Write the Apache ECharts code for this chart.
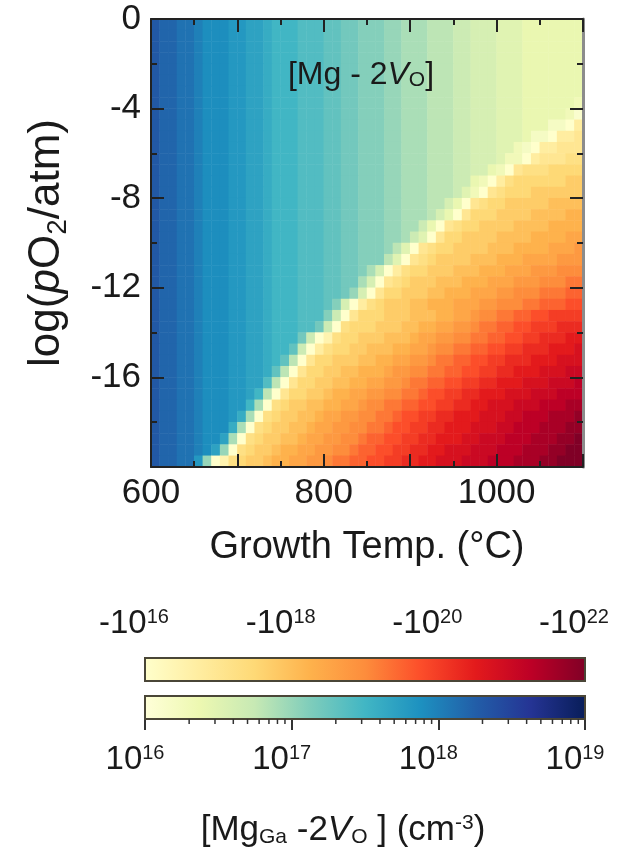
<!DOCTYPE html>
<html>
<head>
<meta charset="utf-8">
<script src="https://cdn.jsdelivr.net/npm/echarts@6/dist/echarts.min.js"></script>
<style>
html,body{margin:0;padding:0;background:#ffffff;}
#c{width:636px;height:849px;}
</style>
</head>
<body>
<div id="c"></div>
<script>
// ================= DATA =================
// Growth temperature cell centres (deg C), left -> right
const tempC = [605,615,625,635,645,655,665,675,685,695,705,715,725,735,745,755,765,775,785,795,
               805,815,825,835,845,855,865,875,885,895,905,915,925,935,945,955,965,975,985,995,
               1005,1015,1025,1035,1045,1055,1065,1075,1085,1095];
// log(pO2/atm) cell centres, top -> bottom (same order as mapRows)
const logPO2 = [-0.25,-0.75,-1.25,-1.75,-2.25,-2.75,-3.25,-3.75,-4.25,-4.75,
                -5.25,-5.75,-6.25,-6.75,-7.25,-7.75,-8.25,-8.75,-9.25,-9.75,
                -10.25,-10.75,-11.25,-11.75,-12.25,-12.75,-13.25,-13.75,-14.25,-14.75,
                -15.25,-15.75,-16.25,-16.75,-17.25,-17.75,-18.25,-18.75,-19.25,-19.75];
// [Mg - 2Vo] map, one character per temperature column, one string per pO2 row.
//  lowercase a..z : positive value,  log10([Mg-2Vo]) = 16 + 0.1  * (letter index)
//  uppercase A..Y : negative value,  log10(|[Mg-2Vo]|) = 16 + 0.25 * (letter index)
const mapRows = [
  "xwwvvutttssrrqpppooonnmmlllkkjjjiiihhgggfffeeeeeee",
  "xwwvvutttssrrqpppooonnmmlllkkjjjiiihhgggfffeeeeeee",
  "xwwvvutttssrrqpppooonnmmlllkkjjjiiihhgggfffeeeeeee",
  "xwwvvutttssrrqpppooonnmmlllkkjjjiiihhgggfffeeeeeee",
  "xwwvvutttssrrqpppooonnmmlllkkjjjiiihhgggfffeeeeeee",
  "xwwvvutttssrrqpppooonnmmlllkkjjjiiihhgggfffeeeeeee",
  "xwwvvutttssrrqpppooonnmmlllkkjjjiiihhgggfffeeeeeee",
  "xwwvvutttssrrqpppooonnmmlllkkjjjiiihhgggfffeeeeeed",
  "xwwvvutttssrrqpppooonnmmlllkkjjjiiihhgggfffeeeeedb",
  "xwwvvutttssrrqpppooonnmmlllkkjjjiiihhgggfffeeeccAD",
  "xwwvvutttssrrqpppooonnmmlllkkjjjiiihhgggfffeccADDE",
  "xwwvvutttssrrqpppooonnmmlllkkjjjiiihhgggffdcADDEEE",
  "xwwvvutttssrrqpppooonnmmlllkkjjjiiihhgggfddADEEEFF",
  "xwwvvutttssrrqpppooonnmmlllkkjjjiiihhggedAEFFFGGGG",
  "xwwvvutttssrrqpppooonnmmlllkkjjjiiihhedADFGGGGGGHH",
  "xwwvvutttssrrqpppooonnmmlllkkjjjiiihfdAEFGGGHHHHHH",
  "xwwvvutttssrrqpppooonnmmlllkkjjjiigeAEFGGHHHHHIIII",
  "xwwvvutttssrrqpppooonnmmlllkkjjjigeAEGGGHHHHIIIIJJ",
  "xwwvvutttssrrqpppooonnmmlllkkjjheAEFGGHHHHIIIIJJJJ",
  "xwwvvutttssrrqpppooonnmmlllkkjhfAEGGHHHHIIIIJJJJKK",
  "xwwvvutttssrrqpppooonnmmlllkifAEFGGHHHHIIIJJJJKKKL",
  "xwwvvutttssrrqpppooonnmmlllifAEFGHHHHIIIJJJKKKKLLL",
  "xwwvvutttssrrqpppooonnmmljgADFGGHHHIIIJJJKKKLLLMMM",
  "xwwvvutttssrrqpppooonnmmjgAEFGHHHIIIJJJKKKLLLMMMNN",
  "xwwvvutttssrrqpppooonnmkgAEGGHHHIIJJJKKKLLMMMNNNOO",
  "xwwvvutttssrrqpppooonlgADFGHHHIIJJJKKKLLMMMNNOOOPP",
  "xwwvvutttssrrqpppooolhAEGGGHHHIIIJJKKLMMNNOOPPQQQQ",
  "xwwvvutttssrrqpppoomhAFGGGHHHIIJJKKLLMNNOOPPQQQRRR",
  "xwwvvutttssrrqpppmhACFGGHHHIIIJKKLLMMNNOOPPQQRRRSS",
  "xwwvvutttssrrqppnhADFGGHHIIIJJKKLMMNNOOPPQQRRRSSST",
  "xwwvvutttssrrqpniAEGGHHHIIJJKKLLMNNOOPPQQRRRSSSTTT",
  "xwwvvutttssrrqniAEGGHHIIJJJKLLMMNNOOPPQQRRSSSTTTUU",
  "xwwvvutttssrroiAEGGHHIIJJKKLLMNNOOPPQQRRSSSTTTUUUV",
  "xwwvvutttssrpiAEGGHHIJJKKLLMMNNOPPQQRRSSSTTTUUUVVV",
  "xwwvvutttsspjAFGHHIIJJKKLMMNNOOPPQQRRSSTTTUUUVVVWW",
  "xwwvvutttsqjAFGHHIIJKKLLMMNNOPPQQRRSSSTTTUUVVVWWWX",
  "xwwvvutttqjAFGHHIIJKKLLMMNNOPPQQRRSSSTTTUUVVVWWWXX",
  "xwwvvuttrjAFGHHIIJKKLLMMNOOPPQQRRSSSTTUUUVVVWWWXXY",
  "xwwvvutrkAFGHHIJJKKLLMMNOOPPQQRRSSTTTUUUVVVWWWXXYY",
  "xwwvvskACFGHHIJJKKLLMNNOOPPQQRRSSTTTUUUVVVWWWXXYYY"
];
// axis ticks / labels
const xTickLabels = [600, 800, 1000];
const yTickLabels = [0, -4, -8, -12, -16];
const negBarTicks = [16, 18, 20, 22];          // -10^16 ... -10^22
const posBarTicks = [16, 17, 18, 19];          // 10^16 ... 10^19
const posBarMinorTicks = [2e16,3e16,4e16,5e16,6e16,7e16,8e16,9e16,
                          2e17,3e17,4e17,5e17,6e17,7e17,8e17,9e17,
                          2e18,3e18,4e18,5e18,6e18,7e18,8e18,9e18];
// colour maps
const YlGnBu = ['#ffffd9','#edf8b1','#c7e9b4','#7fcdbb','#41b6c4','#1d91c0','#225ea8','#253494','#081d58'];
const YlOrRd = ['#ffffcc','#ffeda0','#fed976','#feb24c','#fd8d3c','#fc4e2a','#e31a1c','#bd0026','#800026'];

// ================= build =================
const posData = [], negData = [];
mapRows.forEach((row, r) => {
  if (row.length !== tempC.length) console.warn('row', r, 'length', row.length);
  for (let c = 0; c < row.length; c++) {
    const code = row.charCodeAt(c);
    if (code >= 97) posData.push([c, r, 16 + 0.1 * (code - 97)]);
    else negData.push([c, r, 16 + 0.25 * (code - 65)]);
  }
});

const FONT = '"Liberation Sans", Arial, Helvetica, sans-serif';
const INK = '#1a1a1a';
const AX = '#222222';

function gradientStops(cols) {
  return cols.map((c, i) => ({offset: i / (cols.length - 1), color: c}));
}
function barRenderer(cols) {
  return function (params, api) {
    const a = api.coord([api.value(0), 1]);
    const b = api.coord([api.value(1), 0]);
    return {
      type: 'rect',
      shape: {x: a[0], y: a[1], width: b[0] - a[0], height: b[1] - a[1]},
      style: {
        fill: new echarts.graphic.LinearGradient(0, 0, 1, 0, gradientStops(cols)),
        stroke: '#4a4637', lineWidth: 2
      }
    };
  };
}
function supRich(padRight) {
  return {
    m: {fontSize: 33, lineHeight: 34, fontFamily: FONT, color: INK},
    s: {fontSize: 20, lineHeight: 20, verticalAlign: 'top', fontFamily: FONT, color: INK, padding: [0, padRight, 0, 0]}
  };
}

const chart = echarts.init(document.getElementById('c'), null, {renderer: 'canvas', width: 636, height: 849});

const mainValueAxisCommon = {
  gridIndex: 0,
  z: 10,
  splitLine: {show: false},
  axisLine: {show: true, onZero: false, lineStyle: {color: AX, width: 2}},
  axisTick: {show: true, inside: true, length: 13, lineStyle: {color: AX, width: 2}},
  minorTick: {show: true, splitNumber: 2, length: 6, lineStyle: {color: AX, width: 2}},
  minorSplitLine: {show: false}
};

const option = {
  animation: false,
  backgroundColor: '#ffffff',
  textStyle: {fontFamily: FONT},
  grid: [
    {left: 151, top: 19, width: 432, height: 448, outerBoundsMode: 'none', containLabel: false},
    {left: 145, top: 658, width: 440, height: 23, outerBoundsMode: 'none', containLabel: false},
    {left: 145, top: 696, width: 440, height: 23, outerBoundsMode: 'none', containLabel: false}
  ],
  xAxis: [
    {type: 'category', gridIndex: 0, data: tempC.map(String), show: false, boundaryGap: true, position: 'bottom'},
    Object.assign({}, mainValueAxisCommon, {
      type: 'value', position: 'bottom', min: 600, max: 1100, interval: 100,
      axisLabel: {
        show: true, margin: 9, fontSize: 35, color: INK, fontFamily: FONT,
        hideOverlap: false, showMinLabel: true, showMaxLabel: true,
        formatter: v => (xTickLabels.indexOf(v) >= 0 ? String(v) : '')
      },
      name: 'Growth Temp. (°C)', nameLocation: 'middle', nameGap: 62,
      nameTextStyle: {fontSize: 38, color: INK, fontFamily: FONT}
    }),
    Object.assign({}, mainValueAxisCommon, {
      type: 'value', position: 'top', min: 600, max: 1100, interval: 100,
      axisLabel: {show: false}
    }),
    {
      type: 'value', gridIndex: 1, position: 'top', min: 16, max: 22, interval: 2,
      splitLine: {show: false}, axisLine: {show: false},
      axisTick: {show: true, inside: false, length: 9, lineStyle: {color: '#333', width: 2}},
      axisLabel: {
        show: true, margin: 17, hideOverlap: false, showMinLabel: true, showMaxLabel: true,
        formatter: v => (negBarTicks.indexOf(v) >= 0 ? '{m|-10}{s|' + v + '}' : ''),
        rich: supRich(22)
      }
    },
    {
      type: 'value', gridIndex: 2, position: 'bottom', min: 16, max: 19, interval: 1,
      splitLine: {show: false}, axisLine: {show: false},
      axisTick: {show: true, inside: false, length: 11, lineStyle: {color: '#333', width: 2}},
      axisLabel: {
        show: true, margin: 24, hideOverlap: false, showMinLabel: true, showMaxLabel: true,
        formatter: v => (posBarTicks.indexOf(v) >= 0 ? '{m|10}{s|' + v + '}' : ''),
        rich: supRich(20)
      }
    }
  ],
  yAxis: [
    {type: 'category', gridIndex: 0, data: logPO2.map(String), show: false, inverse: true, boundaryGap: true, position: 'left'},
    Object.assign({}, mainValueAxisCommon, {
      type: 'value', position: 'left', min: -20, max: 0, interval: 4,
      axisLabel: {
        show: true, margin: 10, fontSize: 35, color: INK, fontFamily: FONT,
        hideOverlap: false, showMinLabel: true, showMaxLabel: true,
        formatter: v => (yTickLabels.indexOf(v) >= 0 ? String(v) : '')
      },
      name: '{t|log(}{i|p}{t|O}{b|2}{t|/atm)}', nameLocation: 'middle', nameGap: 79, nameRotate: 90,
      nameTextStyle: {
        rich: {
          t: {fontSize: 44, lineHeight: 50, color: INK, fontFamily: FONT},
          i: {fontSize: 44, lineHeight: 50, fontStyle: 'italic', color: INK, fontFamily: FONT},
          b: {fontSize: 28, lineHeight: 32, verticalAlign: 'bottom', color: INK, fontFamily: FONT}
        }
      }
    }),
    Object.assign({}, mainValueAxisCommon, {
      type: 'value', position: 'right', min: -20, max: 0, interval: 4,
      axisLine: {show: true, onZero: false, lineStyle: {color: '#8c8c8c', width: 3}},
      axisLabel: {show: false}
    }),
    {type: 'value', gridIndex: 1, min: 0, max: 1, show: false},
    {type: 'value', gridIndex: 2, min: 0, max: 1, show: false}
  ],
  visualMap: [
    {type: 'continuous', show: false, seriesIndex: 0, dimension: 2, min: 16, max: 19, inRange: {color: YlGnBu}},
    {type: 'continuous', show: false, seriesIndex: 1, dimension: 2, min: 16, max: 22, inRange: {color: YlOrRd}}
  ],
  series: [
    {type: 'heatmap', xAxisIndex: 0, yAxisIndex: 0, data: posData, progressive: 0, silent: true,
     itemStyle: {borderWidth: 0}, emphasis: {disabled: true}},
    {type: 'heatmap', xAxisIndex: 0, yAxisIndex: 0, data: negData, progressive: 0, silent: true,
     itemStyle: {borderWidth: 0}, emphasis: {disabled: true}},
    {type: 'custom', xAxisIndex: 3, yAxisIndex: 3, data: [[negBarTicks[0], negBarTicks[negBarTicks.length - 1]]],
     renderItem: barRenderer(YlOrRd), silent: true},
    {type: 'custom', xAxisIndex: 4, yAxisIndex: 4, data: [[posBarTicks[0], posBarTicks[posBarTicks.length - 1]]],
     renderItem: barRenderer(YlGnBu), silent: true},
    {type: 'custom', xAxisIndex: 4, yAxisIndex: 4, silent: true, z: 5,
     data: posBarMinorTicks.map(v => [Math.log10(v), 0]),
     renderItem: function (params, api) {
       const a = api.coord([api.value(0), 0]);
       return {type: 'line', shape: {x1: a[0], y1: a[1], x2: a[0], y2: a[1] + 5},
               style: {stroke: '#333', lineWidth: 1.5}};
     }}
  ],
  graphic: [
    {
      type: 'text', x: 361, y: 75, z: 100,
      style: {
        text: '[Mg - 2{i|V}{o|O}]', fill: INK, fontSize: 32, fontFamily: FONT,
        align: 'center', verticalAlign: 'middle',
        rich: {
          i: {fontSize: 32, fontStyle: 'italic', fill: INK, fontFamily: FONT},
          o: {fontSize: 21, lineHeight: 22, verticalAlign: 'bottom', fill: INK, fontFamily: FONT}
        }
      }
    },
    {
      type: 'text', x: 343, y: 830, z: 100,
      style: {
        text: '[Mg{g|Ga} -2{i|V}{o|O} ] (cm{u|-3})', fill: INK, fontSize: 35, fontFamily: FONT,
        align: 'center', verticalAlign: 'middle',
        rich: {
          g: {fontSize: 21, lineHeight: 27, verticalAlign: 'bottom', fill: INK, fontFamily: FONT},
          i: {fontSize: 35, fontStyle: 'italic', fill: INK, fontFamily: FONT},
          o: {fontSize: 21, lineHeight: 23, verticalAlign: 'bottom', fill: INK, fontFamily: FONT},
          u: {fontSize: 21, lineHeight: 21, verticalAlign: 'top', fill: INK, fontFamily: FONT}
        }
      }
    }
  ]
};
chart.setOption(option);
</script>
</body>
</html>
